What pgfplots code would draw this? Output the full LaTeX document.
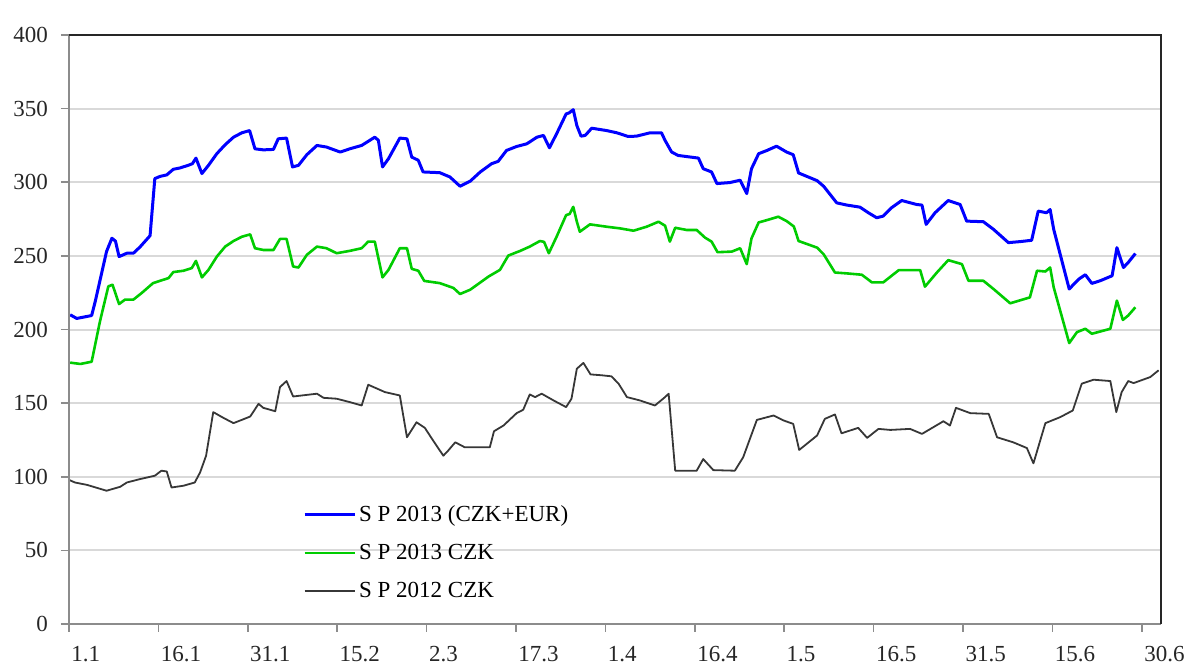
\documentclass[border=0pt]{standalone}
\usepackage{pgfplots}
\pgfplotsset{compat=1.18}
\usepackage{fontspec}
\setmainfont{Liberation Serif}
\definecolor{cblue}{RGB}{0,0,255}
\definecolor{cgreen}{RGB}{0,204,0}
\definecolor{cblack}{RGB}{55,55,55}
\definecolor{cgrid}{RGB}{217,217,217}
\definecolor{caxis}{RGB}{140,140,140}
\begin{document}
\begin{tikzpicture}
\useasboundingbox (-34.5pt,-20pt) rectangle (565.5pt,312pt);
\begin{axis}[
  at={(0,0)}, anchor=south west,
  scale only axis, width=546pt, height=294.5pt,
  xmin=1, xmax=184.2, ymin=0, ymax=400,
  xtick={1,16,...,181},
  xticklabels={1.1,16.1,31.1,15.2,2.3,17.3,1.4,16.4,1.5,16.5,31.5,15.6,30.6},
  ytick={0,50,...,400},
  axis line style={draw=none},
  ymajorgrids, grid style={cgrid, line width=1pt},
  tick align=outside, xtick pos=bottom, ytick pos=left,
  major tick length=4pt,
  tick style={caxis, line width=0.8pt},
  /pgf/number format/assume math mode=true,
  ticklabel style={font=\fontsize{11.5}{13}\selectfont, text=black!85},
  xticklabel style={anchor=north west, inner sep=0.5pt, xshift=0.5pt, yshift=-6.3pt},
  yticklabel style={xshift=-3pt},
  legend style={at={(rel axis cs:0.214,0.207)}, anchor=north west, draw=none, fill=none,
    font=\fontsize{11.5}{13}\selectfont, row sep=6.75pt, inner sep=0pt, nodes={inner sep=1.5pt}},
  legend cell align=left,
  legend image code/.code={\draw[#1] (0pt,0pt) -- (25pt,0pt);},
  every axis plot/.append style={line join=round},
  clip=false,
]
\addplot[cblue, line width=1.5pt] coordinates {
(1.2,210) (2.3,207.5) (4.8,209.5) (5.4,219) (7.3,253) (8.2,262) (8.8,260) (9.4,249.5)
(10.7,251.8) (11.8,251.8) (12.9,256) (14.6,263.7) (15.4,302.5) (16.3,304) (17.4,305)
(18.5,308.8) (19.6,309.7) (21.0,311.5) (21.7,312.6) (22.3,316.4) (23.3,305.9) (24.4,311.5)
(25.8,319.4) (27.2,325.5) (28.6,330.6) (30.0,333.6) (31.3,335.1) (32.2,322.7) (33.6,322)
(35.3,322.3) (36.1,329.5) (37.5,330) (38.5,310.4) (39.5,311.5) (40.9,318.7) (42.6,325)
(44.2,323.9) (46.5,320.5) (48.1,322.7) (50.1,325) (52.3,330.6) (52.9,328.5) (53.6,310.4)
(54.6,316) (56.5,330) (57.7,329.5) (58.5,317.1) (59.6,314.9) (60.4,307) (63.2,306.5)
(64.9,303.6) (66.6,297.3) (68.3,300.7) (70.0,307) (71.9,312.6) (73.0,314.2) (74.4,321.6)
(76.1,324.3) (77.8,326.1) (79.5,330.6) (80.6,331.8) (81.6,323.4) (82.8,332.9) (84.4,346.4)
(84.9,347.1) (85.6,349.3) (86.2,338.5) (86.9,331.3) (87.6,331.8) (88.7,336.7) (91.2,335.1)
(92.9,333.6) (94.8,331.1) (96.2,331.3) (98.5,333.6) (100.4,333.6) (101.0,328.4) (102.1,320.5)
(103.2,318.2) (106.6,316.4) (107.4,309.2) (108.8,307) (109.7,299.1) (111.9,299.8) (113.6,301.4)
(114.7,292.3) (115.5,309.2) (116.7,319.4) (118.1,321.6) (119.7,324.5) (121.4,320.5) (122.5,318.7)
(123.4,306.3) (126.5,301.1) (127.6,297.3) (129.8,286) (131.5,284.5) (133.7,283.1) (135.1,279.3)
(136.5,275.9) (137.6,277) (139.0,282.7) (140.7,287.6) (143.2,284.9) (144.1,284.5) (144.8,271.4)
(146.3,279.3) (148.5,287.6) (150.5,284.9) (151.6,273.6) (154.4,273.2) (156.1,268) (158.6,259)
(160.6,259.7) (162.5,260.6) (163.6,280.4) (165.0,279.3) (165.6,281.5) (166.2,268) (168.8,227.5)
(170.4,234.2) (171.5,237.2) (172.6,231.3) (174.0,233.1) (176.0,236.5) (176.8,255.6) (177.9,242.1)
(178.7,245.5) (179.9,251.6)
};
\addlegendentry{S P 2013 (CZK+EUR)}
\addplot[cgreen, line width=1.3pt] coordinates {
(1.2,177.5) (2.9,176.6) (4.8,178.1) (6.2,205.6) (7.6,229.3) (8.3,230.4) (9.4,217.3) (10.4,220.3)
(11.8,220.3) (13.2,224.8) (15.1,231.5) (16.3,233.1) (17.7,234.9) (18.5,239) (20.2,239.9)
(21.6,241.7) (22.3,246.6) (23.3,235.4) (24.4,240.5) (25.8,249.5) (27.2,256.3) (28.6,260.1)
(30.0,263) (31.4,264.6) (32.2,255.2) (33.6,254) (35.3,254) (36.4,261.5) (37.5,261.5)
(38.6,242.8) (39.5,242.1) (40.9,250.7) (42.6,256.3) (44.2,255.2) (45.9,251.8) (48.1,253.4)
(50.1,255.2) (51.2,259.7) (52.3,259.7) (53.6,235.4) (54.6,240.5) (56.5,255.2) (57.7,255.2)
(58.5,241.2) (59.6,239.9) (60.6,233) (63.2,231.5) (65.5,228.2) (66.6,224.1) (68.3,227)
(71.4,236) (73.3,240.5) (74.7,250.2) (76.7,253.4) (78.3,256.3) (80.0,260.1) (80.7,259.5)
(81.5,251.8) (82.8,263) (84.4,277.7) (85.0,278.5) (85.6,283.3) (86.2,273.2) (86.7,266.4)
(88.4,271.4) (91.2,269.8) (93.4,268.7) (95.7,267.1) (97.9,269.8) (99.9,273.2) (101.0,270.5)
(101.8,259.7) (102.7,269.1) (104.6,267.6) (106.3,267.6) (107.7,262.4) (108.8,259.7) (109.8,252.5)
(112.2,252.9) (113.6,255.2) (114.7,244.4) (115.5,261.9) (116.7,272.7) (118.1,274.3) (120.0,276.6)
(121.4,273.6) (122.6,270) (123.4,260.1) (126.5,255.6) (127.6,251.1) (129.5,238.7) (131.5,238.1)
(134.0,237.2) (135.7,232) (137.6,232) (140.2,240.3) (143.8,240.3) (144.6,229.1) (146.6,238.7)
(148.5,247.1) (150.8,244.4) (151.9,233.1) (154.4,233.1) (156.1,227.5) (158.9,217.8) (162.2,221.8)
(163.4,239.9) (164.8,239.4) (165.6,242.1) (166.2,228.6) (168.8,190.8) (170.1,198.2) (171.5,200.5)
(172.6,197.1) (175.7,200.5) (176.8,219.6) (177.8,206.5) (178.7,209.5) (179.9,215.1)
};
\addlegendentry{S P 2013 CZK}
\addplot[cblack, line width=0.9pt] coordinates {
(1.1,97.7) (2.0,96.1) (4.0,94.5) (7.3,90.5) (9.6,93.2) (10.7,96.1) (12.9,98.4) (15.4,100.7)
(16.5,104.1) (17.4,103.6) (18.2,92.7) (20.2,93.9) (22.1,96.1) (23.0,103) (24.0,114.3)
(25.2,143.9) (26.9,140) (28.6,136.4) (31.4,140.9) (32.8,149.5) (33.6,146.8) (35.6,144.5)
(36.4,160.9) (37.5,165) (38.6,154.5) (42.6,156.4) (43.7,153.6) (45.9,153) (48.1,150.7)
(50.1,148.4) (51.2,162.5) (54.0,157.5) (56.5,155.2) (57.7,126.8) (59.3,137) (60.7,133.2)
(62.1,124.5) (63.8,114.3) (64.6,117.7) (65.8,123.4) (67.4,120) (71.6,120) (72.3,130.9)
(73.9,134.8) (76.1,143.2) (77.2,145.5) (78.3,155.9) (79.2,154.1) (80.3,156.4) (82.3,151.8)
(84.4,147.3) (85.3,153) (86.2,173.4) (87.3,177.3) (88.5,169.5) (90.4,168.9) (92.0,168.2)
(93.2,163.2) (94.6,154.1) (96.8,151.8) (99.3,148.4) (101.0,154.1) (101.6,156.4) (102.7,104.1)
(106.3,104.1) (107.4,112) (109.1,104.5) (112.7,104.1) (114.1,113.2) (116.4,138.6) (119.2,141.6)
(120.9,138.2) (122.5,135.9) (123.5,118.2) (126.5,128) (127.8,139.3) (129.5,142.3) (130.6,129.5)
(133.4,133.2) (134.9,126.4) (136.8,132.5) (138.8,131.8) (142.1,132.5) (144.1,129.1) (147.7,137.7)
(148.8,134.8) (149.8,146.8) (152.2,143.2) (155.3,142.7) (156.7,126.8) (159.4,123.4) (161.7,119.5)
(162.8,109.1) (164.8,136.4) (167.3,140.5) (169.4,145) (170.9,163.2) (172.9,165.9) (175.7,165)
(176.7,143.9) (177.6,157.5) (178.7,165) (179.6,163.6) (182.4,167.7) (183.8,172.3)
};
\addlegendentry{S P 2012 CZK}
\draw[caxis, line width=1pt] (rel axis cs:0,0) -- (rel axis cs:0,1);
\draw[caxis, line width=1pt] (rel axis cs:0,0) -- (rel axis cs:1,0);
\draw[black!85, line width=1.2pt] (rel axis cs:0,1) -- (rel axis cs:1,1) -- (rel axis cs:1,0);
\end{axis}
\end{tikzpicture}
\end{document}
